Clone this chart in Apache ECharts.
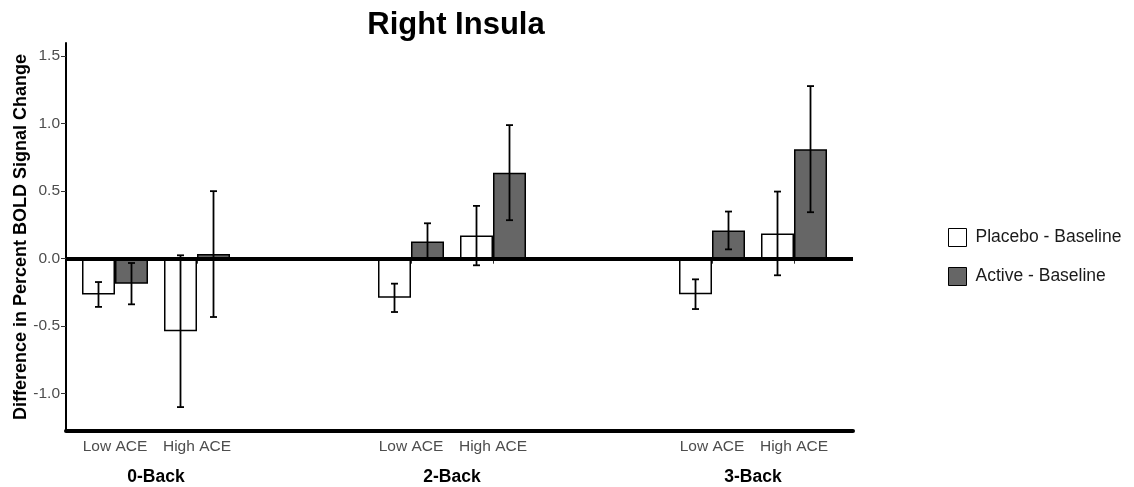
<!DOCTYPE html>
<html>
<head>
<meta charset="utf-8">
<title>Right Insula</title>
<script src="https://cdn.jsdelivr.net/npm/echarts@6/dist/echarts.min.js"></script>
<style>
  html, body { margin: 0; padding: 0; background: #fff; }
  #chart { width: 1134px; height: 487px; }
</style>
</head>
<body>
<div id="chart"></div>
<script>
// Task loads (facets) and ACE groups within each facet
const tasks = ['0-Back', '2-Back', '3-Back'];
const aceGroups = ['Low ACE', 'High ACE'];

// Mean difference and standard error, ordered task by task: [Low ACE, High ACE]
const placeboMean = [-0.265, -0.537, -0.290, 0.171, -0.263, 0.187];
const placeboSE   = [0.092, 0.562, 0.105, 0.220, 0.110, 0.310];
const activeMean  = [-0.185, 0.034, 0.127, 0.637, 0.209, 0.811];
const activeSE    = [0.153, 0.466, 0.135, 0.352, 0.140, 0.467];

const yTicks = [-1.0, -0.5, 0.0, 0.5, 1.0, 1.5];
const seriesNames = ['Placebo - Baseline', 'Active - Baseline'];

const FONT = '"Liberation Sans", Arial, Helvetica, sans-serif';
const Y_MIN = -1.276, Y_MAX = 1.597;
const PLOT_TOP = 43, PLOT_H = 388;
const BAR_W = 33;
const panelLeft = [74, 370, 671];
const PANEL_W = 164;

const chart = echarts.init(document.getElementById('chart'), null, { renderer: 'canvas' });

const grids = [{ left: 66, top: PLOT_TOP, width: 787, height: PLOT_H, outerBoundsMode: 'none', containLabel: false }];
const xAxes = [{
  type: 'value', gridIndex: 0, min: 0, max: 1, position: 'bottom',
  axisLine: { show: true, onZero: false, lineStyle: { color: '#000', width: 4 } },
  axisTick: { show: false }, axisLabel: { show: false }, splitLine: { show: false }
}];
const yAxes = [{
  type: 'value', gridIndex: 0, min: Y_MIN, max: Y_MAX,
  name: 'Difference in Percent BOLD Signal Change',
  nameLocation: 'middle', nameGap: 36, nameMoveOverlap: false,
  nameTextStyle: { fontFamily: FONT, fontSize: 18, fontWeight: 'bold', color: '#000' },
  axisLine: { show: true, lineStyle: { color: '#000', width: 2 } },
  axisTick: { show: true, length: 5, customValues: yTicks, lineStyle: { color: '#333', width: 1 } },
  axisLabel: {
    customValues: yTicks, margin: 6,
    formatter: v => Number(v).toFixed(1),
    fontFamily: FONT, fontSize: 15.5, color: '#4d4d4d'
  },
  splitLine: { show: false }
}];

const series = [{
  // zero reference line spanning all panels
  type: 'line', xAxisIndex: 0, yAxisIndex: 0, data: [], z: 5,
  markLine: {
    silent: true, symbol: 'none', label: { show: false },
    lineStyle: { color: '#000', width: 4, type: 'solid' },
    data: [{ yAxis: 0 }]
  }
}];

tasks.forEach((task, t) => {
  const gi = t + 1;
  grids.push({ left: panelLeft[t], top: PLOT_TOP, width: PANEL_W, height: PLOT_H, outerBoundsMode: 'none', containLabel: false });
  xAxes.push({
    type: 'category', gridIndex: gi, data: aceGroups,
    name: task, nameLocation: 'middle', nameGap: 37, nameMoveOverlap: false,
    nameTextStyle: { fontFamily: FONT, fontSize: 17.5, fontWeight: 'bold', color: '#000' },
    axisLine: { show: false },
    axisTick: { show: true, alignWithLabel: true, length: 5, lineStyle: { color: '#333', width: 1 } },
    axisLabel: { interval: 0, hideOverlap: false, margin: 8, fontFamily: FONT, fontSize: 15.5, color: '#4d4d4d' }
  });
  yAxes.push({ type: 'value', gridIndex: gi, min: Y_MIN, max: Y_MAX, show: false, splitLine: { show: false } });

  const pm = placeboMean.slice(t * 2, t * 2 + 2);
  const am = activeMean.slice(t * 2, t * 2 + 2);
  series.push({
    name: seriesNames[0], type: 'bar', xAxisIndex: gi, yAxisIndex: gi,
    data: pm, barWidth: BAR_W, barGap: '0%', z: 2,
    itemStyle: { color: '#ffffff', borderColor: '#000', borderWidth: 1.5 }
  });
  series.push({
    name: seriesNames[1], type: 'bar', xAxisIndex: gi, yAxisIndex: gi,
    data: am, barWidth: BAR_W, barGap: '0%', z: 2,
    itemStyle: { color: '#666666', borderColor: '#000', borderWidth: 1.5 }
  });

  // error bars: [category index, mean, se, side (-1 placebo, +1 active)]
  const errData = [];
  aceGroups.forEach((g, i) => {
    const k = t * 2 + i;
    errData.push([i, placeboMean[k], placeboSE[k], -1]);
    errData.push([i, activeMean[k], activeSE[k], 1]);
  });
  series.push({
    type: 'custom', xAxisIndex: gi, yAxisIndex: gi, z: 4, silent: true,
    data: errData,
    renderItem: (params, api) => {
      const idx = api.value(0), m = api.value(1), se = api.value(2), side = api.value(3);
      const x = api.coord([idx, m])[0] + side * BAR_W / 2;
      const yHi = api.coord([idx, m + se])[1];
      const yLo = api.coord([idx, m - se])[1];
      const cap = 3.5;
      const style = { stroke: '#000', lineWidth: 1.8 };
      return {
        type: 'group',
        children: [
          { type: 'line', shape: { x1: x, y1: yHi, x2: x, y2: yLo }, style },
          { type: 'line', shape: { x1: x - cap, y1: yHi, x2: x + cap, y2: yHi }, style },
          { type: 'line', shape: { x1: x - cap, y1: yLo, x2: x + cap, y2: yLo }, style }
        ]
      };
    }
  });
});

chart.setOption({
  backgroundColor: '#fff',
  animation: false,
  title: {
    text: 'Right Insula', left: 456, top: 10, textAlign: 'center', padding: 0,
    textStyle: { fontFamily: FONT, fontSize: 31, fontWeight: 'bold', color: '#000' }
  },
  legend: {
    data: seriesNames, orient: 'vertical', left: 948, top: 228, padding: 0,
    itemWidth: 18, itemHeight: 18, itemGap: 20, icon: 'rect',
    itemStyle: { borderColor: '#000', borderWidth: 1 },
    textStyle: { fontFamily: FONT, fontSize: 17.5, color: '#1a1a1a', padding: [0, 0, 0, 4] }
  },
  grid: grids,
  xAxis: xAxes,
  yAxis: yAxes,
  series: series
});
</script>
</body>
</html>
